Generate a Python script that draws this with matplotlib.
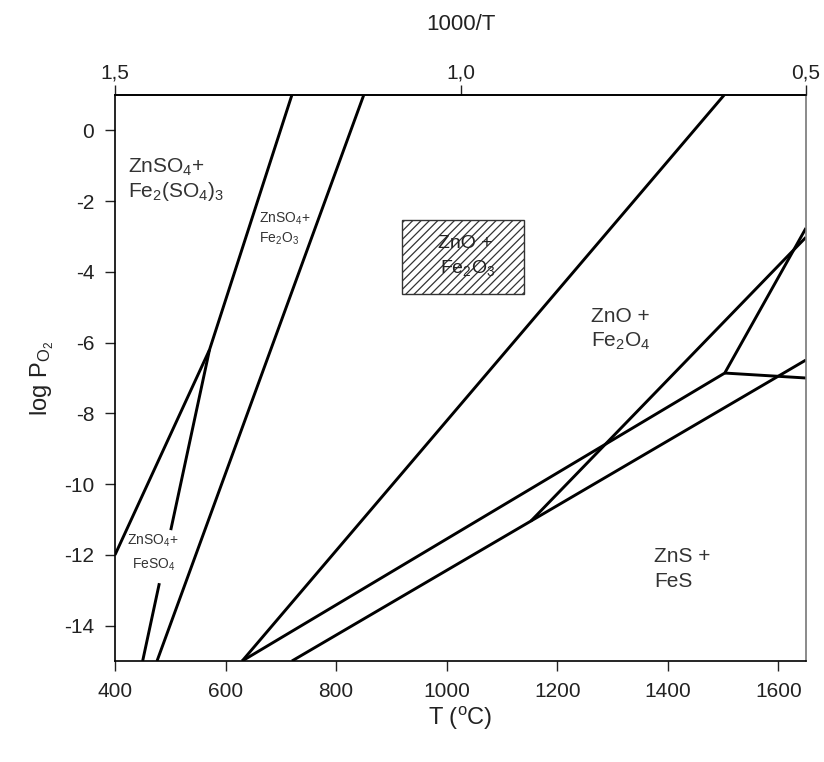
import matplotlib
matplotlib.use("Agg")
import matplotlib.pyplot as plt
import numpy as np
from matplotlib.patches import Rectangle

plt.rcParams['font.family'] = ['Liberation Sans', 'DejaVu Sans']
plt.rcParams['mathtext.default'] = 'regular'
plt.rcParams['hatch.linewidth'] = 0.9
plt.rcParams['axes.unicode_minus'] = False

# ---- data: phase boundary lines (T in degC, log pO2) ----
line_A_T = [400, 571, 720]
line_A_P = [-12.0, -6.2, 1.0]
line_B_T = [450, 571]
line_B_P = [-15.0, -6.2]
line_B_gap_P = [-12.8, -11.3]          # gap left for the label
line_C_T = [476, 850]
line_C_P = [-15.0, 1.0]
line_D_T = [630, 1502]
line_D_P = [-15.0, 1.0]
line_E_T = [630, 1503, 1650]
line_E_P = [-15.0, -6.86, -2.76]
line_K_T = [1503, 1650]
line_K_P = [-6.86, -7.0]
line_H_T = [720, 1650]
line_H_P = [-15.0, -6.49]
line_F_T = [1152, 1650]
line_F_P = [-11.05, -3.02]

box_T = [920, 1140]
box_P = [-4.63, -2.54]

x_ticks = [400, 600, 800, 1000, 1200, 1400, 1600]
y_ticks = [0, -2, -4, -6, -8, -10, -12, -14]
top_ticks = [1.5, 1.0, 0.5]
top_tick_labels = ['1,5', '1,0', '0,5']

fig = plt.figure(figsize=(8.24, 7.62), dpi=100)
ax = fig.add_axes([115/824, 1-661/762, (806-115)/824, (661-95)/762])

lw = 2.1
kw = dict(color='black', lw=lw, solid_capstyle='butt', solid_joinstyle='miter')
ax.plot(line_A_T, line_A_P, **kw)
# line B with a gap for the label
bT = np.array(line_B_T, float); bP = np.array(line_B_P, float)
g0 = np.interp(line_B_gap_P[0], bP, bT)
g1 = np.interp(line_B_gap_P[1], bP, bT)
ax.plot([bT[0], g0], [bP[0], line_B_gap_P[0]], **kw)
ax.plot([g1, bT[1]], [line_B_gap_P[1], bP[1]], **kw)
ax.plot(line_C_T, line_C_P, **kw)
ax.plot(line_D_T, line_D_P, **kw)
ax.plot(line_E_T, line_E_P, **kw)
ax.plot(line_K_T, line_K_P, **kw)
ax.plot(line_H_T, line_H_P, **kw)
ax.plot(line_F_T, line_F_P, **kw)

ax.add_patch(Rectangle((box_T[0], box_P[0]), box_T[1]-box_T[0], box_P[1]-box_P[0],
                       facecolor='white', edgecolor='#333333', hatch='////', lw=1.0, zorder=1))

ax.set_xlim(400, 1650)
ax.set_ylim(-15, 1)
ax.set_xticks(x_ticks)
ax.set_yticks(y_ticks)
ax.tick_params(axis='both', direction='out', length=7, width=1, labelsize=15,
               colors='#222222', pad=8)
for s in ['left', 'bottom', 'top']:
    ax.spines[s].set_linewidth(1.2)
ax.spines['right'].set_color('#777777')
ax.spines['right'].set_linewidth(1.2)

ax.set_xlabel('T ($^{o}$C)', fontsize=17, labelpad=3, color='#222222')
ax.set_ylabel('log P$_{O_2}$', fontsize=17, labelpad=6, color='#222222')

fwd = lambda t: 1.5 - (np.asarray(t) - 400) / 1250.0
inv = lambda v: 400 + (1.5 - np.asarray(v)) * 1250.0
sec = ax.secondary_xaxis('top', functions=(fwd, inv))
sec.set_xticks(top_ticks)
sec.set_xticklabels(top_tick_labels)
sec.tick_params(direction='out', length=7, width=1, labelsize=15, colors='#222222', pad=2)
sec.set_xlabel('1000/T', fontsize=16, labelpad=24, color='#222222')
sec.spines['top'].set_linewidth(1.2)

tc = '#333333'
big = 15
small = 10
ax.text(424, -1.21, 'ZnSO$_4$+', fontsize=big, color=tc)
ax.text(424, -1.89, 'Fe$_2$(SO$_4$)$_3$', fontsize=big, color=tc)
ax.text(661, -2.6, 'ZnSO$_4$+', fontsize=small, color=tc)
ax.text(661, -3.16, 'Fe$_2$O$_3$', fontsize=small, color=tc)
ax.text(422, -11.71, 'ZnSO$_4$+', fontsize=small, color=tc)
ax.text(430, -12.38, 'FeSO$_4$', fontsize=small, color=tc)
ax.text(1261, -5.42, 'ZnO +', fontsize=big, color=tc)
ax.text(1261, -6.12, 'Fe$_2$O$_4$', fontsize=big, color=tc)
ax.text(1375, -12.21, 'ZnS +', fontsize=big, color=tc)
ax.text(1375, -12.92, 'FeS', fontsize=big, color=tc)
ax.text(984, -3.33, 'ZnO +', fontsize=14, color='#222222', zorder=3)
ax.text(988, -4.03, 'Fe$_2$O$_3$', fontsize=14, color='#222222', zorder=3)

fig.savefig('out.png', dpi=100)
